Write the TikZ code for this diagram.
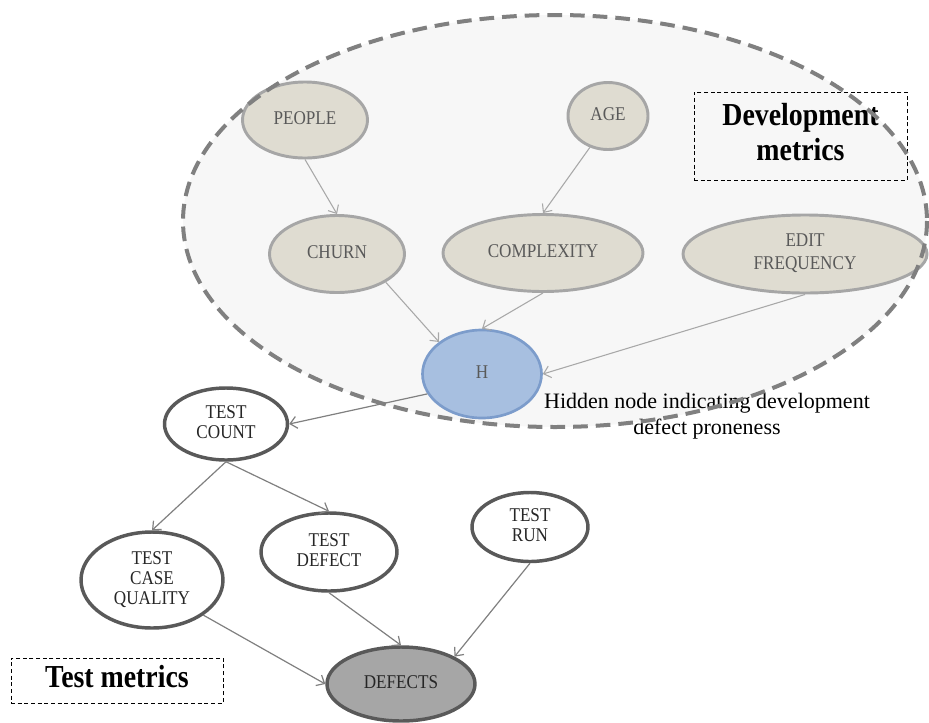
\documentclass[tikz,border=0pt]{standalone}
\usepackage{fontspec}
\setmainfont{Liberation Serif}
\usepackage{graphicx}
\usetikzlibrary{shapes.geometric,arrows.meta}

\definecolor{groupfill}{HTML}{F7F7F7}
\definecolor{groupline}{HTML}{808080}
\definecolor{devfill}{HTML}{DFDCD1}
\definecolor{devborder}{HTML}{A6A6A6}
\definecolor{devtext}{HTML}{595959}
\definecolor{hiddenfill}{HTML}{A7BFE0}
\definecolor{hiddenborder}{HTML}{7C9CCB}
\definecolor{testborder}{HTML}{595959}
\definecolor{testtext}{HTML}{262626}
\definecolor{outfill}{HTML}{A6A6A6}
\definecolor{devline}{HTML}{A8A8A8}
\definecolor{testline}{HTML}{808080}

% node labels: slightly condensed serif capitals
\newcommand{\nodefont}{\fontsize{14.6pt}{15pt}\selectfont}
\newcommand{\nt}[1]{\scalebox{0.88}[1]{\begin{tabular}{@{}c@{}}#1\end{tabular}}}
\newcommand{\bt}[1]{\scalebox{0.87}[1]{\begin{tabular}{@{}c@{}}#1\end{tabular}}}

\begin{document}
\begin{tikzpicture}[x=0.75pt,y=-0.75pt,
  devnode/.style={ellipse, draw=devborder, fill=devfill, line width=2.2pt,
    inner sep=0pt, text=devtext, font=\nodefont},
  hidnode/.style={ellipse, draw=hiddenborder, fill=hiddenfill, line width=2pt,
    inner sep=0pt, text=devtext, font=\nodefont},
  testnode/.style={ellipse, draw=testborder, fill=white, line width=2.6pt,
    inner sep=0pt, text=testtext, font=\nodefont},
  outnode/.style={testnode, fill=outfill},
  devedge/.style={draw=devline, line width=0.8pt,
    -{Straight Barb[length=5pt,width=9pt]}},
  testedge/.style={draw=testline, line width=0.9pt,
    -{Straight Barb[length=5pt,width=9pt]}},
  legend/.style={draw=black, line width=0.7pt, dash pattern=on 3pt off 2pt,
    inner sep=0pt, font=\fontsize{24pt}{26.25pt}\selectfont\bfseries}
]
\useasboundingbox (0,0) rectangle (929,722);
\fill[white] (0,0) rectangle (929,722);

% development metrics region
\fill[groupfill] (555,221) ellipse [x radius=372, y radius=206];

% legend boxes
\node[legend, minimum width=159.75pt, minimum height=66pt] (devbox) at (800.5,136)
  {\bt{Development\\metrics}};
\node[legend, minimum width=159pt, minimum height=33.75pt] (testbox) at (117,680.5)
  {\bt{Test metrics}};

% development nodes
\node[devnode, minimum width=93.75pt, minimum height=57pt] (people) at (305,120) {\nt{PEOPLE}};
\node[devnode, minimum width=60pt, minimum height=50.25pt] (age) at (608,116) {\nt{AGE}};
\node[devnode, minimum width=101.25pt, minimum height=57.75pt] (churn) at (337,254) {\nt{CHURN}};
\node[devnode, minimum width=150pt, minimum height=57.75pt] (complexity) at (543,253) {\nt{COMPLEXITY}};
\node[devnode, minimum width=183pt, minimum height=58.5pt] (editfreq) at (805,254) {\nt{EDIT\\[2.5pt]FREQUENCY}};
\node[hidnode, minimum width=89.25pt, minimum height=66pt] (h) at (482,374) {\nt{H}};

% test nodes
\node[testnode, minimum width=92.25pt, minimum height=54pt] (testcount) at (226,424) {\nt{TEST\\COUNT}};
\node[testnode, minimum width=106.5pt, minimum height=72pt] (tcq) at (152,580) {\nt{TEST\\CASE\\QUALITY}};
\node[testnode, minimum width=102pt, minimum height=58.5pt] (testdefect) at (329,552) {\nt{TEST\\DEFECT}};
\node[testnode, minimum width=87pt, minimum height=51.75pt] (testrun) at (530,527) {\nt{TEST\\RUN}};
\node[outnode, minimum width=111pt, minimum height=55.5pt] (defects) at (401,684) {\nt{DEFECTS}};

% caption of the hidden node
\node[font=\fontsize{16.5pt}{19.5pt}\selectfont, align=center, inner sep=0pt] (hidlabel) at (707,416)
  {Hidden node indicating development\\defect proneness};

% dashed outline of the development region
\draw[groupline, line width=3pt, dash pattern=on 11pt off 6pt]
  (555,221) ellipse [x radius=372, y radius=206];

% connectors
\draw[devedge] (people.south) -- (churn.north);
\draw[devedge] (age.240) -- (complexity.north);
\draw[devedge] (churn.south east) -- (h.north west);
\draw[devedge] (complexity.south) -- (h.north);
\draw[devedge] (editfreq.south) -- (h.east);
\draw[testedge] (h.200) -- (testcount.east);
\draw[testedge] (testcount.south) -- (tcq.north);
\draw[testedge] (testcount.south) -- (testdefect.north);
\draw[testedge] (tcq.south east) -- (defects.west);
\draw[testedge] (testdefect.south) -- (defects.north);
\draw[testedge] (testrun.south) -- (defects.north east);
\end{tikzpicture}
\end{document}
